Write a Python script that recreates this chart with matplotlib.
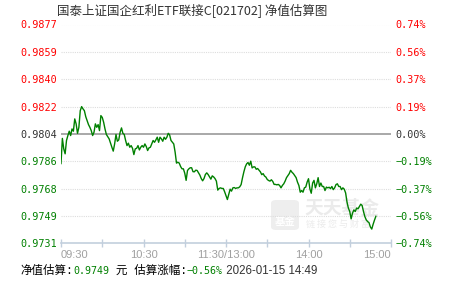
import numpy as np
import matplotlib
matplotlib.use("Agg")
import matplotlib.pyplot as plt
from matplotlib.patches import FancyBboxPatch

# estimated NAV, one value per trading minute from 09:30
nav = [
    0.97842, 0.98010, 0.97940, 0.97907, 0.97996, 0.98029, 0.98058, 0.98029, 0.98073, 0.98058,
    0.98140, 0.98107, 0.98044, 0.98084, 0.98195, 0.98222, 0.98207, 0.98195, 0.98155, 0.98129,
    0.98102, 0.98084, 0.98062, 0.98029, 0.98051, 0.98107, 0.98084, 0.98102, 0.98062, 0.98162,
    0.98150, 0.98118, 0.98073, 0.98036, 0.98022, 0.98007, 0.97978, 0.97951, 0.97925, 0.97973,
    0.98036, 0.97991, 0.98000, 0.98051, 0.98080, 0.98044, 0.98036, 0.97996, 0.97962, 0.97978,
    0.97951, 0.97962, 0.97944, 0.97902, 0.97940, 0.97944, 0.97962, 0.97933, 0.97951, 0.97962,
    0.97951, 0.97973, 0.97956, 0.97929, 0.97947, 0.97951, 0.97973, 0.97996, 0.97984, 0.98000,
    0.98018, 0.97984, 0.98018, 0.98007, 0.97991, 0.98018, 0.98004, 0.98018, 0.98044, 0.98033,
    0.97996, 0.97984, 0.97973, 0.97918, 0.97845, 0.97851, 0.97845, 0.97822, 0.97807, 0.97807,
    0.97778, 0.97730, 0.97796, 0.97807, 0.97814, 0.97814, 0.97788, 0.97787, 0.97798, 0.97796,
    0.97780, 0.97765, 0.97742, 0.97727, 0.97742, 0.97769, 0.97780, 0.97769, 0.97753, 0.97738,
    0.97760, 0.97753, 0.97742, 0.97725, 0.97665, 0.97676, 0.97680, 0.97676, 0.97676, 0.97654,
    0.97627, 0.97602, 0.97636, 0.97671, 0.97658, 0.97680, 0.97682, 0.97676, 0.97680, 0.97680,
    0.97687, 0.97702, 0.97747, 0.97787, 0.97820, 0.97840, 0.97849, 0.97831, 0.97858, 0.97813,
    0.97820, 0.97820, 0.97804, 0.97809, 0.97798, 0.97787, 0.97768, 0.97775, 0.97759, 0.97752,
    0.97736, 0.97729, 0.97725, 0.97734, 0.97723, 0.97703, 0.97703, 0.97700, 0.97703, 0.97696,
    0.97680, 0.97696, 0.97707, 0.97725, 0.97748, 0.97761, 0.97775, 0.97797, 0.97784, 0.97775,
    0.97761, 0.97748, 0.97718, 0.97696, 0.97651, 0.97662, 0.97651, 0.97680, 0.97685, 0.97718,
    0.97741, 0.97673, 0.97644, 0.97712, 0.97730, 0.97680, 0.97707, 0.97748, 0.97689, 0.97712,
    0.97689, 0.97689, 0.97662, 0.97685, 0.97680, 0.97684, 0.97675, 0.97689, 0.97668, 0.97680,
    0.97702, 0.97707, 0.97689, 0.97689, 0.97668, 0.97680, 0.97671, 0.97646, 0.97585, 0.97545,
    0.97522, 0.97473, 0.97511, 0.97533, 0.97522, 0.97545, 0.97540, 0.97556, 0.97571, 0.97562,
    0.97522, 0.97488, 0.97466, 0.97455, 0.97448, 0.97419, 0.97405, 0.97437, 0.97465, 0.97490,
]

base = 0.9804          # previous NAV (0.00%)
span = 0.0073
nav_labels = ["0.9731", "0.9749", "0.9768", "0.9786", "0.9804", "0.9822", "0.9840", "0.9859", "0.9877"]
pct_labels = ["\u22120.74%", "\u22120.56%", "\u22120.37%", "\u22120.19%", "0.00%", "0.19%", "0.37%", "0.56%", "0.74%"]
time_labels = ["09:30", "10:30", "11:30/13:00", "14:00", "15:00"]
title = "国泰上证国企红利ETF联接C[021702] 净值估算图"
est_nav = "0.9749"
est_pct = "\u22120.56%"
stamp = "2026-01-15 14:49"

RED = "#ff0000"
GREEN = "#008000"
DARK = "#333333"
MONO = ["DejaVu Sans Mono", "Noto Sans CJK SC"]
CJK = ["Noto Sans CJK SC", "DejaVu Sans"]

W, H = 451, 281
fig = plt.figure(figsize=(W / 100, H / 100), dpi=100)
ax = fig.add_axes([61 / W, (H - 243.3) / H, 330 / W, (243.3 - 24.5) / H])

# watermark, kept under the line
logo = FancyBboxPatch((271 / W, (H - 230) / H), 28 / W, 30 / H,
                      boxstyle="round,pad=0,rounding_size=0.012",
                      transform=fig.transFigure, fc="#eeeeee", ec="none", zorder=0.5,
                      clip_on=False)
ax.add_patch(logo)
ax.text(285 / W, (H - 222) / H, "基金", color="white", fontsize=7.5, ha="center", va="center",
        family="Noto Sans CJK SC", fontweight="bold", transform=fig.transFigure, zorder=0.6)
ax.text(304 / W, (H - 208) / H, "天天基金", color="#ebebeb", fontsize=13.5, ha="left", va="center",
        family="Noto Sans CJK SC", fontweight="bold", transform=fig.transFigure, zorder=0.6)
ax.text(306 / W, (H - 224) / H, "链 接 您 与 财 富", color="#ebebeb", fontsize=6.5, ha="left",
        va="center", family="Noto Sans CJK SC", transform=fig.transFigure, zorder=0.6)

ticks = np.linspace(base - span, base + span, 9)
for v in ticks[1:]:
    if abs(v - base) < 1e-9:
        ax.axhline(v, color="#999999", lw=1.2, zorder=1)
    else:
        ax.axhline(v, color="#dddddd", lw=0.8, ls=(0, (1, 1)), zorder=1)

x = np.arange(len(nav))
ax.plot(x, nav, color=GREEN, lw=1.0, zorder=3)

ax.set_xlim(0, 240)
ax.set_ylim(base - span, base + span)

for s in ["top", "left", "right"]:
    ax.spines[s].set_visible(False)
ax.spines["bottom"].set_color("#c2cfdd")
ax.spines["bottom"].set_linewidth(1.2)

ax.set_yticks(ticks)
ax.set_yticklabels(nav_labels, family=MONO, fontsize=7.3)
ax.tick_params(axis="y", length=0, pad=3)
for lbl, v in zip(ax.get_yticklabels(), ticks):
    lbl.set_color(RED if v > base + 1e-9 else (GREEN if v < base - 1e-9 else DARK))

ax2 = ax.twinx()
ax2.set_ylim(ax.get_ylim())
ax2.set_yticks(ticks)
ax2.set_yticklabels(pct_labels, family=MONO, fontsize=7.3)
ax2.tick_params(axis="y", length=0, pad=3.5)
for s in ["top", "left", "right", "bottom"]:
    ax2.spines[s].set_visible(False)
for lbl, v in zip(ax2.get_yticklabels(), ticks):
    lbl.set_color(RED if v > base + 1e-9 else (GREEN if v < base - 1e-9 else DARK))

ax.set_xticks([0, 60, 120, 180, 240])
ax.set_xticklabels(time_labels, family="Liberation Sans", fontsize=8, color="#a0a0a0")
ax.set_xticks([30, 90, 150, 210], minor=True)
ax.tick_params(axis="x", which="both", direction="inout", length=6, width=1,
               color="#c2cfdd", pad=1.5)
xl = ax.get_xticklabels()
xl[0].set_ha("left")
xl[-1].set_ha("right")

fig.text(57 / W, (H - 11) / H, title, family=CJK,
         fontsize=9, color=DARK, ha="left", va="center")

# bottom status line: pieces on one baseline, each placed after the previous one
pieces = [
    ("净值估算:", "black", MONO, 8.3),
    (est_nav, GREEN, MONO, 7.2),
    (" 元 估算涨幅:", "black", MONO, 8.3),
    (est_pct, GREEN, MONO, 7.2),
    (" " + stamp, DARK, ["Liberation Sans"], 8.3),
]
renderer = fig.canvas.get_renderer()
xpos = 20
for s, c, fam, fs in pieces:
    t = fig.text(xpos / W, 7 / H, s, family=fam, fontsize=fs, color=c,
                 ha="left", va="baseline")
    xpos = t.get_window_extent(renderer).x1

fig.savefig("out.png", dpi=100)
